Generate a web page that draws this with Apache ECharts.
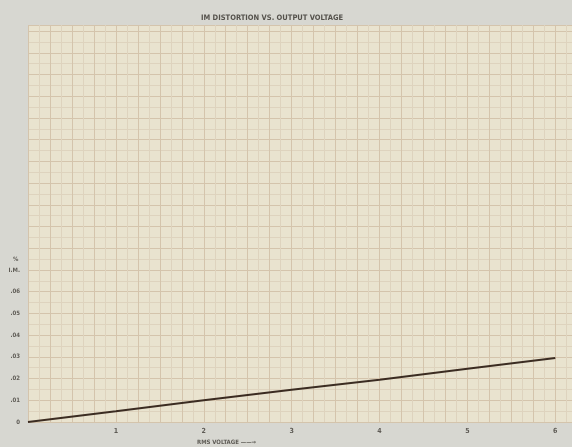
<!DOCTYPE html>
<html><head><meta charset="utf-8">
<script src="https://cdn.jsdelivr.net/npm/echarts@6/dist/echarts.min.js"></script>
<style>html,body{margin:0;padding:0;background:#d7d7d1;}#c{width:572px;height:447px;}</style>
</head><body><div id="c"></div>
<script>
const titleText = 'IM DISTORTION VS. OUTPUT VOLTAGE';
const xName = 'RMS VOLTAGE \u2014\u2014\u2192';
const voltage = [0, 1, 2, 3, 4, 5, 6];
const imPercent = [0, 0.0049, 0.0100, 0.0149, 0.0195, 0.0245, 0.0295];
const yTickLabels = ['0', '.01', '.02', '.03', '.04', '.05', '.06', 'I.M.'];
const xTickLabels = ['1', '2', '3', '4', '5', '6'];

const font = "'Liberation Sans Narrow','DejaVu Sans Condensed',sans-serif";
const txt = '#5e5b55';
const chart = echarts.init(document.getElementById('c'), null, {renderer: 'canvas'});
chart.setOption({
  backgroundColor: '#d7d7d1',
  animation: false,
  title: {text: titleText, left: 196, top: 9,
    textStyle: {fontSize: 7.5, fontWeight: 'bold', color: '#55524c', fontFamily: font}},
  grid: {left: 28, right: 0, top: 25, bottom: 25, show: true, backgroundColor: '#e9e3cf', borderWidth: 0},
  xAxis: {
    type: 'value', min: 0, max: 6.19, interval: 0.25,
    axisLine: {show: false}, axisTick: {show: false},
    axisLabel: {margin: 6, fontSize: 7, color: txt, fontFamily: font, fontWeight: 'bold',
      showMaxLabel: false,
      formatter: v => { const r = Math.round(v * 100) / 100; return (Number.isInteger(r) && r >= 1 && r <= 6) ? xTickLabels[r - 1] : ''; }},
    splitLine: {show: true, lineStyle: {color: '#d4c4ac', width: 1, type: 'solid'}},
    minorTick: {show: false, splitNumber: 2},
    minorSplitLine: {show: true, lineStyle: {color: '#ded3be', width: 1, type: 'solid'}}
  },
  yAxis: {
    type: 'value', min: 0, max: 0.1828, interval: 0.01,
    axisLine: {show: false}, axisTick: {show: false},
    axisLabel: {margin: 8, fontSize: 6, color: txt, fontFamily: font, fontWeight: 'bold', showMaxLabel: false,
      formatter: v => { const n = Math.round(v * 100); return (Math.abs(v * 100 - n) < 1e-6 && n <= 7) ? yTickLabels[n] : ''; }},
    splitLine: {show: true, lineStyle: {color: '#d4c4ac', width: 1, type: 'solid'}},
    minorTick: {show: false, splitNumber: 2},
    minorSplitLine: {show: true, lineStyle: {color: '#ded3be', width: 1, type: 'solid'}}
  },
  graphic: [
    {type: 'text', left: 13, top: 256, style: {text: '%', fontSize: 6, fill: txt, fontFamily: font, fontWeight: 'bold'}},
    {type: 'text', left: 197, top: 439, style: {text: xName, fontSize: 6, fill: txt, fontFamily: font, fontWeight: 'bold'}}
  ],
  series: [{
    type: 'line', data: voltage.map((v, i) => [v, imPercent[i]]),
    symbol: 'none', smooth: false,
    lineStyle: {color: '#3b2c22', width: 2}
  }]
});
</script></body></html>
